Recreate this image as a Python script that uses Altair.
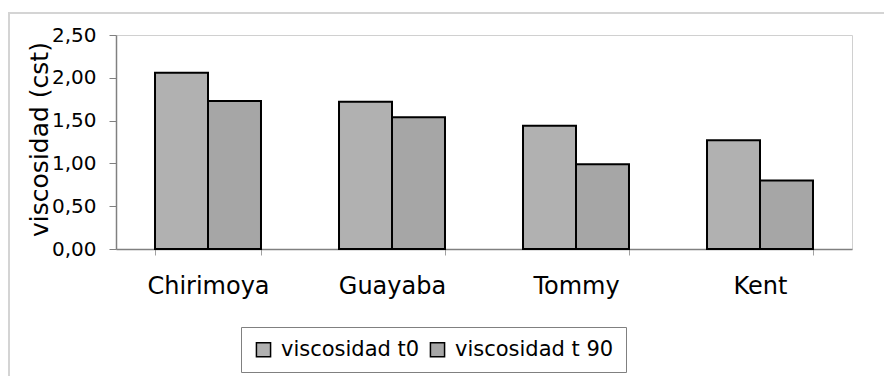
import altair as alt
import pandas as pd

categories = ["Chirimoya", "Guayaba", "Tommy", "Kent"]
series = ["viscosidad t0", "viscosidad t 90"]
t0_values = [2.06, 1.72, 1.44, 1.27]
t90_values = [1.73, 1.54, 0.99, 0.80]
y_ticks = [0, 0.5, 1.0, 1.5, 2.0, 2.5]
colors = ["#b1b1b1", "#a6a6a6"]

rows = []
for c, a, b in zip(categories, t0_values, t90_values):
    rows.append({"fruta": c, "serie": series[0], "valor": a})
    rows.append({"fruta": c, "serie": series[1], "valor": b})
df = pd.DataFrame(rows)

FONT = "DejaVu Sans"

bars = alt.Chart(df).mark_bar(stroke="black", strokeWidth=2).encode(
    x=alt.X("fruta:N", sort=categories,
            scale=alt.Scale(paddingInner=0.424, paddingOuter=0.212),
            axis=alt.Axis(title=None, labelAngle=0, labelFont=FONT, labelFontSize=24,
                          labelColor="black", labelPadding=19, tickBand="extent",
                          tickSize=6, tickColor="#a0a0a0", domainColor="#808080",
                          domainWidth=1.5, labelBaseline="top")),
    xOffset=alt.XOffset("serie:N", sort=series),
    y=alt.Y("valor:Q", scale=alt.Scale(domain=[0, 2.5], nice=False, zero=True),
            axis=alt.Axis(values=y_ticks, grid=False, title="viscosidad (cst)",
                          labelExpr="replace(format(datum.value, '.2f'), '.', ',')",
                          labelFont=FONT, labelFontSize=20, labelColor="black",
                          labelPadding=13, tickSize=7, tickColor="#808080",
                          domainColor="#808080", domainWidth=1.5,
                          titleFont=FONT, titleFontSize=25, titleFontWeight="normal",
                          titleColor="black", titleAngle=270, titleAlign="center",
                          titleBaseline="alphabetic", titleX=-69, titleY=104)),
    color=alt.Color("serie:N", sort=series,
                    scale=alt.Scale(domain=series, range=colors),
                    legend=alt.Legend(title=None, orient="none", legendX=125, legendY=292,
                                      direction="horizontal", symbolType="square",
                                      symbolSize=200, symbolStrokeColor="black",
                                      symbolStrokeWidth=1.5, labelFont=FONT,
                                      labelFontSize=21, labelColor="black", labelOffset=7,
                                      columnPadding=7, padding=12, strokeColor="#808080",
                                      fillColor="white")),
)

border = alt.Chart(alt.Data(values=[{}])).mark_rect(
    fill="white", fillOpacity=0, stroke="#d4d4d4", strokeWidth=2
).encode(x=alt.value(-107), y=alt.value(-22), x2=alt.value(800), y2=alt.value(400))

chart = alt.layer(border, bars).properties(
    width=736, height=214,
    autosize=alt.AutoSizeParams(type="none"),
    padding={"left": 116, "top": 35, "right": 32, "bottom": 127},
).configure_view(stroke="#d0d0d0", strokeWidth=1)

chart.save("out.html", embed_options={"renderer": "svg", "actions": False})
